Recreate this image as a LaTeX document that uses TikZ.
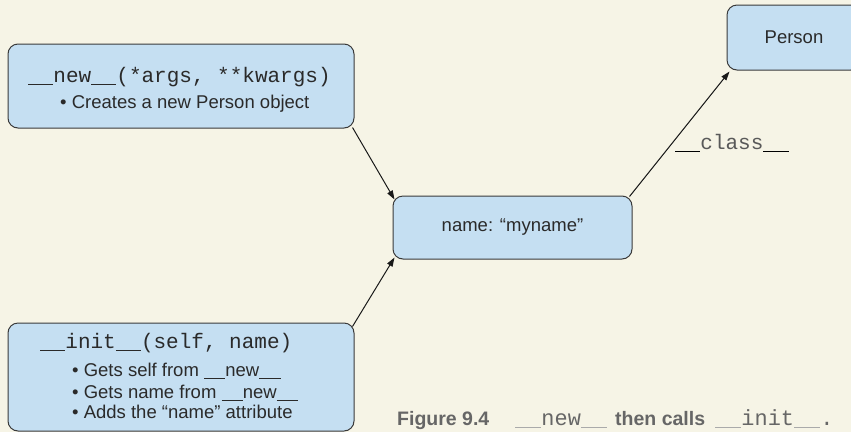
\documentclass[tikz,border=0pt]{standalone}
\usepackage{fontspec}
\setmainfont{Liberation Sans}
\setmonofont{Liberation Mono}
\usetikzlibrary{arrows.meta}
\definecolor{bg}{HTML}{F6F4E6}
\definecolor{boxfill}{HTML}{C5DFF2}
\definecolor{boxline}{HTML}{3A3A3A}
\definecolor{inktext}{HTML}{2A2A2A}
\definecolor{captext}{HTML}{666666}
\definecolor{capline}{HTML}{AAAAAA}
\newcommand\mus{\rule[-3pt]{1.2em}{1.3pt}}
\newcommand\sus{\rule[-3pt]{1.15em}{1.3pt}}
\newcommand\cus{{\color{capline}\rule[-3pt]{1.2em}{1.3pt}}}
\tikzset{
  objbox/.style={draw=boxline, fill=boxfill, line width=1pt, rounded corners=10pt,
    inner sep=0pt, text=inktext, font=\fontsize{18.5}{22}\selectfont},
  monotext/.style={anchor=base west, inner sep=0pt, text=inktext, font=\fontsize{21}{25}\selectfont\ttfamily},
  sanstext/.style={anchor=base west, inner sep=0pt, text=inktext, font=\fontsize{18.5}{22}\selectfont},
  capbold/.style={anchor=base west, inner sep=0pt, text=captext, font=\fontsize{19.5}{23}\selectfont\bfseries},
  capmono/.style={anchor=base west, inner sep=0pt, text=captext, font=\fontsize{21.9}{25}\selectfont\ttfamily},
  link/.style={draw=black!90, line width=1pt, -{Triangle[length=9pt,width=6pt]}}
}
\begin{document}
\begin{tikzpicture}[x=1pt,y=-1pt]
\path[use as bounding box, fill=bg] (0,0) rectangle (851,432);

\node[objbox, minimum width=346pt, minimum height=84pt] (newbox) at (181,86) {};
\node[objbox, minimum width=346pt, minimum height=108pt] (initbox) at (181,377) {};
\node[objbox, minimum width=239pt, minimum height=63pt] (namebox) at (512.5,227.5) {name: “myname”};
\node[objbox, minimum width=134pt, minimum height=65pt] (personbox) at (794,37.5) {Person};

\node[monotext] (newsig) at (28,82) {\mus new\mus(*args, **kwargs)};
\node[sanstext] (newb1) at (60,108) {• Creates a new Person object};

\node[monotext] (initsig) at (40,348) {\mus init\mus(self, name)};
\node[sanstext] (initb1) at (72,376) {• Gets self from \sus new\sus};
\node[sanstext] (initb2) at (72,398) {• Gets name from \sus new\sus};
\node[sanstext] (initb3) at (72,418) {• Adds the “name” attribute};

\draw[link] ([xshift=-2pt,yshift=1pt]newbox.south east) -- ([xshift=2pt,yshift=-4pt]namebox.north west);
\draw[link] ([xshift=-2pt,yshift=-4pt]initbox.north east) -- ([xshift=2pt,yshift=2pt]namebox.south west);
\draw[link] ([xshift=-3pt,yshift=-1pt]namebox.north east) -- ([xshift=3pt,yshift=-1pt]personbox.south west);

\node[monotext, text=black!65] (classlbl) at (675,149) {{\color{black}\mus}class{\color{black}\mus}};

\node[capbold] (cap1) at (397,425) {Figure 9.4};
\node[capmono] (cap2) at (515,425) {\cus new\cus};
\node[capbold] (cap3) at (615,425) {then calls};
\node[capmono] (cap4) at (715,425) {\cus init\cus.};
\end{tikzpicture}
\end{document}
